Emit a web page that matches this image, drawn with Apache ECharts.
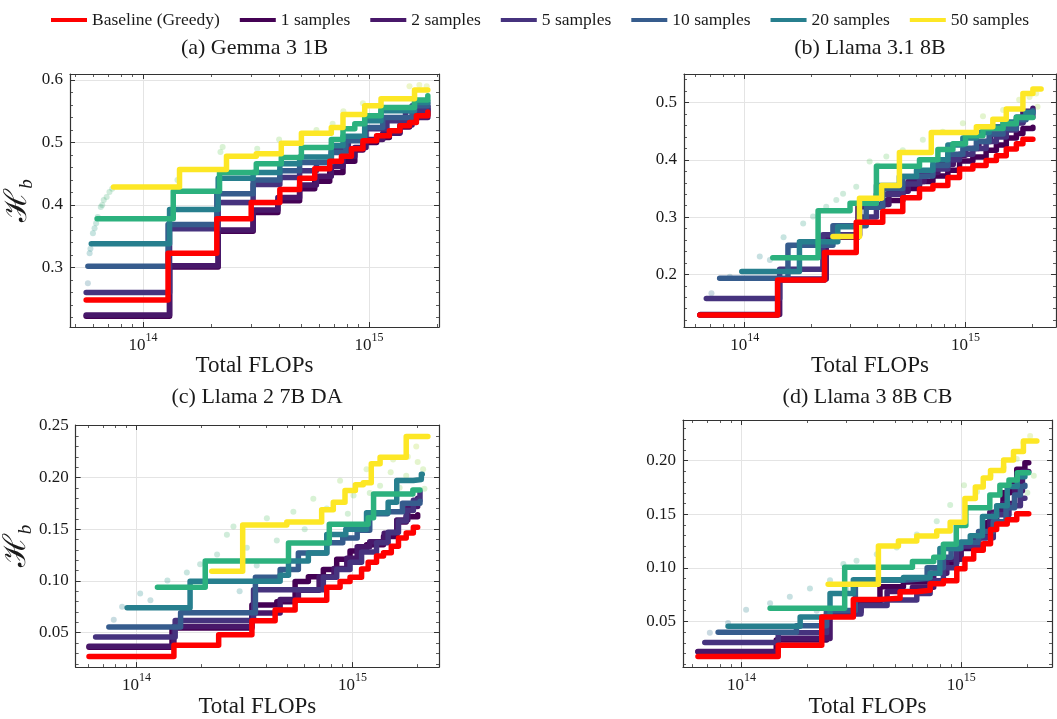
<!DOCTYPE html>
<html>
<head>
<meta charset="utf-8">
<script src="https://cdn.jsdelivr.net/npm/echarts@6/dist/echarts.min.js"></script>
<style>
html, body {margin: 0; padding: 0; background: #fff;}
#chart {width: 1057px; height: 719px;}
</style>
</head>
<body>
<div id="chart"></div>
<script>
var FONT = '"Liberation Serif", "DejaVu Serif", serif';
var AX = '#333', GRIDC = '#e4e4e4', TXT = '#1a1a1a';

var legendNames = ['Baseline (Greedy)', '1 samples', '2 samples', '5 samples', '10 samples', '20 samples', '50 samples'];
var panelTitles = ['(a) Gemma 3 1B', '(b) Llama 3.1 8B', '(c) Llama 2 7B DA', '(d) Llama 3 8B CB'];
var xTicks = [1e14, 1e15];
var yTicksA = [0.3, 0.4, 0.5, 0.6];
var yTicksB = [0.2, 0.3, 0.4, 0.5];
var yTicksC = [0.05, 0.10, 0.15, 0.20, 0.25];
var yTicksD = [0.05, 0.10, 0.15, 0.20];

// (a) Gemma 3 1B  [FLOPs, H_b]
var gemmaBase = [[5.6e13,0.248],[1.29e14,0.323],[2.12e14,0.378],[3.01e14,0.404],[4.03e14,0.425],[4.93e14,0.443],[5.75e14,0.458],[6.70e14,0.470],[7.55e14,0.478],[8.36e14,0.490],[9.40e14,0.503],[1.08e15,0.511],[1.23e15,0.519],[1.37e15,0.527],[1.51e15,0.532],[1.62e15,0.543],[1.82e15,0.549]];
var gemmaS1 = [[5.6e13,0.222],[1.31e14,0.301],[2.15e14,0.358],[3.07e14,0.388],[3.95e14,0.407],[4.93e14,0.426],[5.75e14,0.438],[6.70e14,0.452],[7.67e14,0.470],[8.65e14,0.488],[9.40e14,0.500],[1.08e15,0.508],[1.23e15,0.516],[1.37e15,0.525],[1.51e15,0.535],[1.62e15,0.545],[1.82e15,0.553]];
var gemmaS2 = [[5.6e13,0.224],[1.31e14,0.303],[2.15e14,0.360],[3.07e14,0.392],[3.95e14,0.412],[4.93e14,0.432],[5.85e14,0.446],[6.81e14,0.462],[7.67e14,0.478],[8.65e14,0.492],[9.70e14,0.505],[1.15e15,0.515],[1.37e15,0.528],[1.55e15,0.540],[1.82e15,0.557]];
var gemmaS5 = [[5.6e13,0.260],[1.31e14,0.362],[2.15e14,0.404],[3.07e14,0.433],[4.03e14,0.444],[4.93e14,0.455],[5.85e14,0.468],[6.81e14,0.487],[8.10e14,0.506],[9.70e14,0.522],[1.20e15,0.535],[1.45e15,0.551],[1.82e15,0.558]];
var gemmaS10 = [[5.7e13,0.302],[1.29e14,0.369],[2.12e14,0.418],[3.07e14,0.440],[4.03e14,0.455],[4.93e14,0.468],[6.81e14,0.484],[7.90e14,0.503],[9.57e14,0.524],[1.15e15,0.540],[1.55e15,0.559],[1.82e15,0.562]];
var gemmaS20 = [[5.9e13,0.338],[1.31e14,0.393],[2.15e14,0.443],[3.07e14,0.452],[4.03e14,0.466],[4.93e14,0.477],[6.81e14,0.495],[7.67e14,0.510],[9.57e14,0.535],[1.13e15,0.551],[1.59e15,0.564],[1.82e15,0.566]];
var gemmaSx = [[6.26e13,0.378],[1.36e14,0.422],[2.18e14,0.452],[3.17e14,0.466],[4.09e14,0.476],[5.02e14,0.492],[6.81e14,0.505],[7.67e14,0.522],[8.65e14,0.530],[9.57e14,0.543],[1.13e15,0.556],[1.59e15,0.568],[1.82e15,0.575]];
var gemmaS50 = [[7.4e13,0.429],[1.45e14,0.457],[2.34e14,0.478],[3.17e14,0.482],[4.09e14,0.499],[5.02e14,0.515],[6.81e14,0.524],[7.67e14,0.545],[9.57e14,0.559],[1.13e15,0.570],[1.59e15,0.584],[1.82e15,0.584]];
var gemmaDots = [[5.7e13,0.275],[5.8e13,0.323],[5.85e13,0.330],[6.0e13,0.355],[6.1e13,0.363],[6.2e13,0.371],[6.3e13,0.381],[6.5e13,0.397],[6.6e13,0.400],[6.7e13,0.408],[6.9e13,0.413],[7.1e13,0.421],[7.3e13,0.426],[1.40e14,0.425],[1.42e14,0.440],[2.20e14,0.485],[2.25e14,0.493],[3.20e14,0.490],[4.0e14,0.505],[5.85e14,0.520],[6.9e14,0.530],[7.7e14,0.550],[9.4e14,0.563],[1.32e15,0.552],[1.51e15,0.590],[1.67e15,0.592],[1.80e15,0.590]];

// (b) Llama 3.1 8B
var l31Base = [[6.26e13,0.129],[1.41e14,0.190],[2.30e14,0.238],[3.20e14,0.291],[4.22e14,0.310],[5.20e14,0.334],[6.19e14,0.349],[7.12e14,0.355],[8.32e14,0.369],[9.40e14,0.384],[1.08e15,0.390],[1.24e15,0.399],[1.38e15,0.407],[1.53e15,0.419],[1.70e15,0.428],[1.82e15,0.436],[2.02e15,0.437]];
var l31S1 = [[6.26e13,0.129],[1.41e14,0.190],[2.30e14,0.265],[3.26e14,0.318],[4.22e14,0.329],[5.20e14,0.350],[6.19e14,0.362],[7.12e14,0.372],[8.32e14,0.382],[9.40e14,0.398],[1.08e15,0.405],[1.24e15,0.417],[1.38e15,0.426],[1.53e15,0.438],[1.70e15,0.446],[1.82e15,0.455],[2.02e15,0.457]];
var l31S2 = [[6.3e13,0.130],[1.44e14,0.192],[2.34e14,0.268],[3.31e14,0.322],[4.5e14,0.345],[5.5e14,0.362],[6.5e14,0.378],[7.5e14,0.392],[8.8e14,0.408],[1.0e15,0.420],[1.15e15,0.432],[1.3e15,0.445],[1.48e15,0.455],[1.65e15,0.465],[1.82e15,0.485],[2.02e15,0.490]];
var l31S5 = [[6.7e13,0.158],[1.44e14,0.209],[2.26e14,0.269],[3.31e14,0.300],[3.95e14,0.340],[5.2e14,0.358],[6.19e14,0.378],[7.12e14,0.384],[8.32e14,0.400],[9.4e14,0.410],[1.08e15,0.420],[1.24e15,0.432],[1.38e15,0.440],[1.53e15,0.452],[1.70e15,0.465],[1.82e15,0.475],[2.02e15,0.480]];
var l31S10 = [[7.7e13,0.193],[1.57e14,0.251],[2.51e14,0.285],[3.55e14,0.317],[4.22e14,0.350],[5.2e14,0.371],[6.19e14,0.372],[7.12e14,0.390],[8.32e14,0.410],[9.73e14,0.420],[1.12e15,0.432],[1.28e15,0.445],[1.48e15,0.455],[1.70e15,0.470],[1.88e15,0.482],[2.02e15,0.486]];
var l31S20 = [[9.7e13,0.205],[1.77e14,0.257],[2.64e14,0.283],[3.31e14,0.324],[3.95e14,0.355],[5.02e14,0.371],[6.0e14,0.382],[7.12e14,0.400],[8.32e14,0.426],[9.73e14,0.438],[1.12e15,0.448],[1.28e15,0.458],[1.48e15,0.466],[1.70e15,0.475],[1.88e15,0.483],[2.02e15,0.484]];
var l31Sx = [[1.34e14,0.229],[2.15e14,0.311],[3.0e14,0.324],[3.95e14,0.389],[6.19e14,0.400],[7.5e14,0.418],[8.77e14,0.428],[1.0e15,0.442],[1.2e15,0.455],[1.48e15,0.463],[1.70e15,0.474],[2.02e15,0.473]];
var l31S50 = [[2.51e14,0.266],[3.31e14,0.333],[4.17e14,0.355],[5.02e14,0.413],[7.0e14,0.448],[1.12e15,0.458],[1.33e15,0.471],[1.53e15,0.489],[1.82e15,0.516],[2.02e15,0.524],[2.2e15,0.524]];
var l31Dots = [[7.07e13,0.167],[8.56e13,0.196],[1.17e14,0.231],[1.30e14,0.225],[1.5e14,0.265],[1.60e14,0.248],[1.84e14,0.289],[2.04e14,0.301],[2.34e14,0.318],[2.6e14,0.330],[2.79e14,0.341],[3.20e14,0.353],[3.68e14,0.397],[4.0e14,0.390],[4.38e14,0.406],[5.20e14,0.417],[6.41e14,0.435],[7.89e14,0.449],[9.73e14,0.464],[1.20e15,0.476],[1.48e15,0.487],[1.75e15,0.505],[1.95e15,0.510],[2.09e15,0.516],[2.12e15,0.493]];

// (c) Llama 2 7B DA
var l2Base = [[6.03e13,0.027],[1.49e14,0.0378],[2.40e14,0.048],[3.42e14,0.0615],[4.38e14,0.072],[5.42e14,0.0814],[7.59e14,0.094],[8.75e14,0.0995],[9.73e14,0.1036],[1.10e15,0.1115],[1.18e15,0.118],[1.29e15,0.1241],[1.39e15,0.1273],[1.51e15,0.1336],[1.63e15,0.1415],[1.77e15,0.1463],[1.91e15,0.152],[2.0e15,0.152]];
var l2S1 = [[6.03e13,0.036],[1.46e14,0.0546],[3.42e14,0.0767],[4.46e14,0.0799],[5.42e14,0.0995],[6.24e14,0.104],[7.32e14,0.111],[8.44e14,0.121],[9.73e14,0.129],[1.16e15,0.135],[1.39e15,0.143],[1.60e15,0.157],[1.77e15,0.162],[2.0e15,0.164]];
var l2S2 = [[6.03e13,0.037],[1.49e14,0.056],[3.42e14,0.069],[4.62e14,0.082],[5.61e14,0.091],[7.0e14,0.104],[8.2e14,0.112],[9.4e14,0.122],[1.05e15,0.133],[1.2e15,0.138],[1.4e15,0.146],[1.6e15,0.159],[1.8e15,0.172],[2.0e15,0.180]];
var l2S5 = [[6.47e13,0.046],[1.51e14,0.0618],[3.48e14,0.0916],[7.32e14,0.1036],[8.44e14,0.111],[9.73e14,0.118],[1.10e15,0.128],[1.29e15,0.137],[1.46e15,0.147],[1.63e15,0.158],[1.77e15,0.168],[1.91e15,0.178],[2.05e15,0.186]];
var l2S10 = [[7.45e13,0.0555],[1.60e14,0.0694],[3.55e14,0.1036],[4.62e14,0.111],[5.61e14,0.127],[7.59e14,0.137],[9.0e14,0.1415],[1.05e15,0.149],[1.20e15,0.165],[1.45e15,0.167],[1.70e15,0.175],[2.05e15,0.177]];
var l2S20 = [[9.05e13,0.0742],[1.77e14,0.0998],[4.62e14,0.1055],[5.05e14,0.1194],[6.24e14,0.127],[7.59e14,0.145],[9.3e14,0.150],[1.16e15,0.166],[1.46e15,0.176],[1.60e15,0.197],[1.91e15,0.198],[2.08e15,0.203],[2.1e15,0.203]];
var l2Sx = [[1.25e14,0.094],[2.08e14,0.1194],[5.05e14,0.1368],[7.8e14,0.1548],[1.18e15,0.161],[1.25e15,0.184],[1.9e15,0.188],[2.05e15,0.188]];
var l2S50 = [[2.23e14,0.1093],[3.10e14,0.1542],[4.96e14,0.157],[7.19e14,0.1688],[8.14e14,0.176],[9.22e14,0.1874],[1.03e15,0.193],[1.12e15,0.195],[1.22e15,0.2133],[1.34e15,0.2196],[1.77e15,0.2396],[2.23e15,0.2396]];
var l2Dots = [[7.85e13,0.0625],[8.58e13,0.075],[1.04e14,0.0878],[1.16e14,0.0814],[1.39e14,0.1004],[1.71e14,0.1083],[1.97e14,0.1162],[2.36e14,0.1257],[2.62e14,0.1447],[2.81e14,0.1526],[3.0e14,0.090],[3.24e14,0.132],[3.6e14,0.115],[4.01e14,0.1605],[4.46e14,0.139],[5.32e14,0.1668],[6.0e14,0.150],[6.58e14,0.1795],[7.59e14,0.170],[8.75e14,0.1969],[9.5e14,0.165],[1.01e15,0.1826],[1.16e15,0.208],[1.2e15,0.185],[1.34e15,0.192],[1.5e15,0.205],[1.54e15,0.2174],[1.65e15,0.190],[1.77e15,0.2016],[1.8e15,0.220],[1.9e15,0.175],[1.97e15,0.230],[2.0e15,0.215],[2.12e15,0.208],[2.15e15,0.189]];

// (d) Llama 3 8B CB
var l3Base = [[6.34e13,0.0174],[1.47e14,0.0278],[2.32e14,0.0541],[3.23e14,0.0706],[4.27e14,0.0716],[5.27e14,0.0777],[6.28e14,0.0792],[7.22e14,0.0853],[8.30e14,0.0880],[9.55e14,0.0991],[1.04e15,0.1083],[1.14e15,0.1165],[1.26e15,0.1226],[1.36e15,0.1358],[1.45e15,0.1410],[1.62e15,0.1450],[1.79e15,0.1505],[2.03e15,0.1505]];
var l3S1 = [[6.34e13,0.0217],[1.44e14,0.0327],[2.44e14,0.0593],[3.5e14,0.0685],[4.27e14,0.0823],[5.46e14,0.0868],[7.22e14,0.095],[8.3e14,0.105],[9.55e14,0.118],[1.14e15,0.128],[1.3e15,0.142],[1.45e15,0.155],[1.55e15,0.170],[1.67e15,0.180],[1.79e15,0.192],[1.95e15,0.198],[2.03e15,0.198]];
var l3S2 = [[6.34e13,0.022],[1.47e14,0.034],[2.53e14,0.058],[3.4e14,0.070],[4.6e14,0.078],[6.0e14,0.082],[7.5e14,0.095],[8.6e14,0.108],[1.0e15,0.120],[1.15e15,0.130],[1.35e15,0.152],[1.55e15,0.160],[1.75e15,0.172],[1.9e15,0.190],[2.03e15,0.190]];
var l3S5 = [[6.81e13,0.0303],[1.47e14,0.0394],[2.44e14,0.057],[3.5e14,0.065],[4.6e14,0.070],[6.28e14,0.0761],[7.22e14,0.088],[8.3e14,0.100],[9.5e14,0.1205],[1.2e15,0.128],[1.4e15,0.1495],[1.65e15,0.158],[1.86e15,0.165],[1.95e15,0.165]];
var l3S10 = [[7.83e13,0.040],[1.78e14,0.046],[2.44e14,0.0602],[3.3e14,0.0884],[5.46e14,0.090],[7.0e14,0.100],[8.3e14,0.110],[9.0e14,0.118],[1.0e15,0.124],[1.2e15,0.134],[1.4e15,0.143],[1.6e15,0.156],[1.75e15,0.168],[1.86e15,0.176],[1.95e15,0.177]];
var l3S20 = [[8.69e13,0.0456],[1.85e14,0.0541],[2.53e14,0.076],[3.23e14,0.089],[5.46e14,0.091],[7.22e14,0.095],[8.0e14,0.118],[9.9e14,0.124],[1.1e15,0.130],[1.25e15,0.148],[1.45e15,0.158],[1.62e15,0.176],[1.8e15,0.185],[1.95e15,0.186]];
var l3Sx = [[1.35e14,0.0624],[2.95e14,0.1006],[6.0e14,0.106],[7.5e14,0.110],[8.3e14,0.122],[9.5e14,0.1395],[1.05e15,0.156],[1.35e15,0.168],[1.5e15,0.177],[1.65e15,0.182],[1.8e15,0.1887],[2.03e15,0.189]];
var l3S50 = [[2.48e14,0.0847],[4.20e14,0.1205],[5.18e14,0.125],[6.28e14,0.1297],[7.74e14,0.1343],[8.91e14,0.1425],[1.04e15,0.1648],[1.16e15,0.1755],[1.26e15,0.1838],[1.36e15,0.1908],[1.56e15,0.2006],[1.73e15,0.2086],[1.92e15,0.2183],[2.21e15,0.2183]];
var l3Dots = [[7.18e13,0.0394],[8.69e13,0.0486],[1.05e14,0.0609],[1.35e14,0.067],[1.66e14,0.0731],[2.05e14,0.0807],[2.2e14,0.060],[2.53e14,0.0884],[2.91e14,0.1037],[3.0e14,0.080],[3.34e14,0.1067],[4.13e14,0.1128],[5.09e14,0.119],[6.28e14,0.1312],[7.74e14,0.1434],[8.91e14,0.1587],[1.03e15,0.177],[1.18e15,0.171],[1.36e15,0.1862],[1.56e15,0.1939],[1.7e15,0.160],[1.79e15,0.2015],[1.92e15,0.2168],[2.0e15,0.170],[2.06e15,0.223],[2.14e15,0.186]];

var colors = {base: '#ff0000', s1: '#440154', s2: '#48186a', s5: '#46337e', s10: '#365c8d', s20: '#277f8e', sx: '#2cb17e', s50: '#fde725'};
var seriesKeys = ['s1', 's2', 's5', 's10', 's20', 'sx', 's50', 'base'];
var seriesNames = {base: 'Baseline (Greedy)', s1: '1 samples', s2: '2 samples', s5: '5 samples', s10: '10 samples', s20: '20 samples', sx: 'extra', s50: '50 samples'};

var panels = [
    {grid: [70, 74, 369, 253], titleTop: 37, xMin: 4.75e13, xMax: 2.04e15, yMin: 0.2048, yMax: 0.6096, yTicks: yTicksA, yStep: 0.02, dec: 1, yName: true,
        lines: {base: gemmaBase, s1: gemmaS1, s2: gemmaS2, s5: gemmaS5, s10: gemmaS10, s20: gemmaS20, sx: gemmaSx, s50: gemmaS50}, dots: gemmaDots},
    {grid: [684, 74, 372, 253], titleTop: 37, xMin: 5.31e13, xMax: 2.57e15, yMin: 0.108, yMax: 0.550, yTicks: yTicksB, yStep: 0.02, dec: 1, yName: false,
        lines: {base: l31Base, s1: l31S1, s2: l31S2, s5: l31S5, s10: l31S10, s20: l31S20, sx: l31Sx, s50: l31S50}, dots: l31Dots},
    {grid: [75, 425, 364, 247], titleTop: 386, xMin: 5.23e13, xMax: 2.51e15, yMin: 0.0168, yMax: 0.2507, yTicks: yTicksC, yStep: 0.01, dec: 2, yName: true,
        lines: {base: l2Base, s1: l2S1, s2: l2S2, s5: l2S5, s10: l2S10, s20: l2S20, sx: l2Sx, s50: l2S50}, dots: l2Dots},
    {grid: [683, 420, 369, 252], titleTop: 386, xMin: 5.42e13, xMax: 2.59e15, yMin: 0.0074, yMax: 0.238, yTicks: yTicksD, yStep: 0.01, dec: 2, yName: false,
        lines: {base: l3Base, s1: l3S1, s2: l3S2, s5: l3S5, s10: l3S10, s20: l3S20, sx: l3Sx, s50: l3S50}, dots: l3Dots}
];

function logMinor(min, max) {
    var out = [];
    for (var e = 13; e <= 15; e++) {
        for (var m = 2; m <= 9; m++) {
            var v = m * Math.pow(10, e);
            if (v > min && v < max) out.push(v);
        }
    }
    return out;
}
function linMinor(min, max, step) {
    var out = [];
    for (var k = Math.ceil(min / step); k * step <= max + 1e-9; k++) out.push(+(k * step).toFixed(4));
    return out;
}

var grids = [], titles = [], xAxes = [], yAxes = [], series = [], vms = [];

panels.forEach(function (p, i) {
    grids.push({left: p.grid[0], top: p.grid[1], width: p.grid[2], height: p.grid[3]});
    titles.push({
        text: panelTitles[i], left: p.grid[0] + p.grid[2] / 2, top: p.titleTop, textAlign: 'center', padding: 0,
        textStyle: {fontFamily: FONT, fontSize: 22, fontWeight: 'normal', color: TXT}
    });
    var xm = logMinor(p.xMin, p.xMax), ym = linMinor(p.yMin, p.yMax, p.yStep);

    ['bottom', 'top'].forEach(function (pos) {
        var main = pos === 'bottom';
        xAxes.push({
            gridIndex: i, type: 'log', min: p.xMin, max: p.xMax, position: pos,
            axisLine: {show: true, onZero: false, lineStyle: {color: AX, width: 1.2}},
            axisTick: {show: true, inside: true, length: 5, customValues: xTicks, lineStyle: {color: AX, width: 1}},
            axisLabel: {
                show: main, customValues: xTicks, margin: 5,
                formatter: function (v) { return '{m|10}{s|' + Math.round(Math.log10(v)) + '}'; },
                rich: {
                    m: {fontFamily: FONT, fontSize: 17, color: TXT, lineHeight: 22, verticalAlign: 'bottom'},
                    s: {fontFamily: FONT, fontSize: 12, color: TXT, lineHeight: 12, verticalAlign: 'top'}
                }
            },
            splitLine: {show: main, lineStyle: {color: GRIDC, width: 1}},
            name: main ? 'Total FLOPs' : '', nameLocation: 'middle', nameGap: 23,
            nameTextStyle: {fontFamily: FONT, fontSize: 23, color: TXT}
        });
        xAxes.push({
            gridIndex: i, type: 'log', min: p.xMin, max: p.xMax, position: pos,
            axisLine: {show: false},
            axisTick: {show: true, inside: true, length: 3, customValues: xm, lineStyle: {color: AX, width: 0.8}},
            axisLabel: {show: false}, splitLine: {show: false}
        });
    });

    ['left', 'right'].forEach(function (pos) {
        var main = pos === 'left';
        yAxes.push({
            gridIndex: i, type: 'value', min: p.yMin, max: p.yMax, position: pos,
            axisLine: {show: true, onZero: false, lineStyle: {color: AX, width: 1.2}},
            axisTick: {show: true, inside: true, length: 5, customValues: p.yTicks, lineStyle: {color: AX, width: 1}},
            axisLabel: {
                show: main, customValues: p.yTicks, margin: 7, fontFamily: FONT, fontSize: 17, color: TXT,
                formatter: function (v) { return v.toFixed(p.dec); }
            },
            splitLine: {show: main, lineStyle: {color: GRIDC, width: 1}},
            name: (main && p.yName) ? '{h|ℋ}{b|b}' : '', nameLocation: 'middle', nameGap: 34, nameRotate: 90,
            nameTextStyle: {
                rich: {
                    h: {fontFamily: FONT, fontSize: 31, color: TXT, lineHeight: 34, verticalAlign: 'top'},
                    b: {fontFamily: FONT, fontSize: 19, fontStyle: 'italic', color: TXT, lineHeight: 20, verticalAlign: 'bottom'}
                }
            }
        });
        yAxes.push({
            gridIndex: i, type: 'value', min: p.yMin, max: p.yMax, position: pos,
            axisLine: {show: false},
            axisTick: {show: true, inside: true, length: 3, customValues: ym, lineStyle: {color: AX, width: 0.8}},
            axisLabel: {show: false}, splitLine: {show: false}
        });
    });

    var xi = i * 4, yi = i * 4;
    vms.push({
        type: 'continuous', show: false, seriesIndex: series.length, dimension: 1, min: p.yMin, max: p.yMax,
        inRange: {color: ['#3b528b', '#21918c', '#5ec962', '#c8e020']}
    });
    series.push({
        type: 'scatter', name: 'points', xAxisIndex: xi, yAxisIndex: yi, data: p.dots,
        symbolSize: 6, itemStyle: {opacity: 0.26}, silent: true, z: 1
    });
    seriesKeys.forEach(function (k, j) {
        series.push({
            type: 'line', name: seriesNames[k], xAxisIndex: xi, yAxisIndex: yi, data: p.lines[k],
            step: 'end', symbol: 'none', showSymbol: false, silent: true, z: 2 + j,
            lineStyle: {color: colors[k], width: 5.5, cap: 'round', join: 'round'},
            itemStyle: {color: colors[k]}
        });
    });
});

var chart = echarts.init(document.getElementById('chart'));
chart.setOption({
    backgroundColor: '#fff',
    animation: false,
    title: titles,
    legend: {
        data: legendNames, left: 46, top: 6, icon: 'rect', itemWidth: 36, itemHeight: 4, itemGap: 20,
        textStyle: {fontFamily: FONT, fontSize: 17.5, color: TXT}
    },
    grid: grids,
    xAxis: xAxes,
    yAxis: yAxes,
    visualMap: vms,
    series: series
});
</script>
</body>
</html>
